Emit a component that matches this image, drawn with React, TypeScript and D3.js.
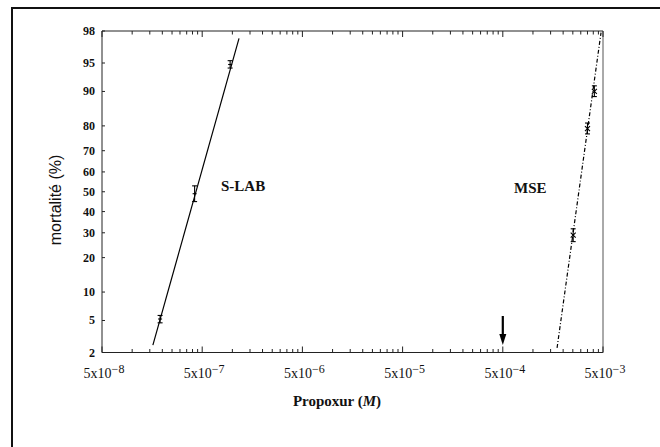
import React from 'react';
import * as d3 from 'd3';

// mortality ticks (%) on the probit axis
const yTicks = [2, 5, 10, 20, 30, 40, 50, 60, 70, 80, 90, 95, 98];
// labelled x ticks: 5 x 10^exp
const xExponents = [-8, -7, -6, -5, -4, -3];
// minor multipliers inside each 5x10^n decade
const minorSteps = [2, 3, 4, 5, 6, 7, 8, 9];

// S-LAB strain: concentration (M), mortality (%), error (%)
const slabConc = [1.9e-7, 4.2e-7, 9.5e-7];
const slabPct = [5.2, 49, 94.8];
const slabErr = [0.5, 4, 0.5];
const slabFit = [
  [1.61e-7, 2.5],
  [1.165e-6, 97.5],
];

// MSE strain
const mseConc = [2.52e-3, 3.5e-3, 4.1e-3];
const msePct = [29, 79, 90];
const mseErr = [2.8, 2, 1.2];
const mseFit = [
  [1.74e-3, 2.3],
  [4.78e-3, 97.9],
];

const arrowAt = 5e-4;

// inverse normal CDF (Acklam)
function probit(p: number): number {
  const a = [-39.69683028665376, 220.9460984245205, -275.9285104469687, 138.357751867269, -30.66479806614716, 2.506628277459239];
  const b = [-54.47609879822406, 161.5858368580409, -155.6989798598866, 66.80131188771972, -13.28068155288572];
  const c = [-0.007784894002430293, -0.3223964580411365, -2.400758277161838, -2.549732539343734, 4.374664141464968, 2.938163982698783];
  const d = [0.007784695709041462, 0.3224671290700398, 2.445134137142996, 3.754408661907416];
  const plow = 0.02425;
  if (p < plow) {
    const q = Math.sqrt(-2 * Math.log(p));
    return (((((c[0] * q + c[1]) * q + c[2]) * q + c[3]) * q + c[4]) * q + c[5]) /
      ((((d[0] * q + d[1]) * q + d[2]) * q + d[3]) * q + 1);
  }
  if (p <= 1 - plow) {
    const q = p - 0.5;
    const r = q * q;
    return ((((((a[0] * r + a[1]) * r + a[2]) * r + a[3]) * r + a[4]) * r + a[5]) * q) /
      (((((b[0] * r + b[1]) * r + b[2]) * r + b[3]) * r + b[4]) * r + 1);
  }
  const q = Math.sqrt(-2 * Math.log(1 - p));
  return -(((((c[0] * q + c[1]) * q + c[2]) * q + c[3]) * q + c[4]) * q + c[5]) /
    ((((d[0] * q + d[1]) * q + d[2]) * q + d[3]) * q + 1);
}

const App = () => {
  const W = 660;
  const H = 447;
  const left = 102;
  const right = 603;
  const top = 31;
  const bottom = 352.5;

  const x = d3.scaleLog().domain([5e-8, 5e-3]).range([left, right]);
  const yz = d3.scaleLinear().domain([probit(0.02), probit(0.98)]).range([bottom, top]);
  const y = (pct: number) => yz(probit(pct / 100));

  const majors = xExponents.map((e) => 5 * Math.pow(10, e));
  const minors: number[] = [];
  xExponents.slice(0, -1).forEach((e) => {
    minorSteps.forEach((k) => minors.push(k * 5 * Math.pow(10, e)));
  });

  const line = d3
    .line<number[]>()
    .x((d) => x(d[0]))
    .y((d) => y(d[1]));

  const serif = '"Liberation Serif", "Times New Roman", serif';
  const sans = '"Liberation Sans", Arial, sans-serif';

  const errBar = (cx: number, pct: number, err: number, key: string, cross: boolean) => {
    const px = x(cx);
    const y1 = y(pct + err);
    const y0 = y(pct - err);
    const py = y(pct);
    return (
      <g key={key} stroke="#000" strokeWidth={1.1}>
        <line x1={px} x2={px} y1={y1} y2={y0} />
        <line x1={px - 2.5} x2={px + 2.5} y1={y1} y2={y1} />
        <line x1={px - 2.5} x2={px + 2.5} y1={y0} y2={y0} />
        {cross ? (
          <g>
            <line x1={px - 2.5} x2={px + 2.5} y1={py - 2.5} y2={py + 2.5} />
            <line x1={px - 2.5} x2={px + 2.5} y1={py + 2.5} y2={py - 2.5} />
          </g>
        ) : (
          <line x1={px - 2} x2={px + 2} y1={py} y2={py} />
        )}
      </g>
    );
  };

  const ax = x(arrowAt);

  return (
    <svg
      width={W}
      height={H}
      style={{ position: 'absolute', left: 0, top: 0, background: '#fff' }}
    >
      {/* outer frame (cut off at right and bottom) */}
      <line x1={12} x2={12} y1={7} y2={H} stroke="#111" strokeWidth={2} />
      <line x1={11} x2={W} y1={8} y2={8} stroke="#111" strokeWidth={2} />

      {/* plot box */}
      <line x1={left} x2={right} y1={top} y2={top} stroke="#222" strokeWidth={1} />
      <line x1={left} x2={right} y1={bottom} y2={bottom} stroke="#222" strokeWidth={1} />
      <line x1={left} x2={left} y1={top} y2={bottom} stroke="#222" strokeWidth={1} />
      <line x1={right} x2={right} y1={top} y2={bottom} stroke="#555" strokeWidth={1} />

      {/* x ticks, top and bottom, pointing inward */}
      {minors.map((v, i) => (
        <g key={'mn' + i} stroke="#222" strokeWidth={1}>
          <line x1={x(v)} x2={x(v)} y1={bottom} y2={bottom - 3.5} />
          <line x1={x(v)} x2={x(v)} y1={top} y2={top + 3.5} />
        </g>
      ))}
      {majors.map((v, i) => (
        <g key={'mj' + i} stroke="#222" strokeWidth={1}>
          <line x1={x(v)} x2={x(v)} y1={bottom} y2={bottom - 6} />
          <line x1={x(v)} x2={x(v)} y1={top} y2={top + 6} />
        </g>
      ))}
      {xExponents.map((e, i) => (
        <text
          key={'xl' + i}
          x={x(5 * Math.pow(10, e)) + 2}
          y={378}
          textAnchor="middle"
          fontFamily={serif}
          fontSize={14}
          fill="#111"
        >
          5x10
          <tspan dy={-5} fontSize={12}>
            {String(e).replace('-', '\u2212')}
          </tspan>
        </text>
      ))}

      {/* y ticks */}
      {yTicks.map((t) => (
        <g key={'yt' + t}>
          <line x1={left} x2={left + 3} y1={y(t)} y2={y(t)} stroke="#222" strokeWidth={1} />
          <text
            x={95}
            y={y(t) + 4}
            textAnchor="end"
            fontFamily={serif}
            fontWeight="bold"
            fontSize={12}
            fill="#111"
          >
            {t}
          </text>
        </g>
      ))}

      {/* axis titles */}
      <text
        transform={`translate(61,200) rotate(-90)`}
        textAnchor="middle"
        fontFamily={sans}
        fontSize={16}
        fill="#111"
      >
        mortalité (%)
      </text>
      <text x={337} y={406} textAnchor="middle" fontFamily={serif} fontWeight="bold" fontSize={15} fill="#111">
        Propoxur (<tspan fontStyle="italic">M</tspan>)
      </text>

      {/* fitted probit lines */}
      <path d={line(slabFit) || ''} fill="none" stroke="#000" strokeWidth={1.2} />
      <path d={line(mseFit) || ''} fill="none" stroke="#000" strokeWidth={1.2} strokeDasharray="4 2 1 2" />

      {/* observed points */}
      {slabConc.map((c, i) => errBar(c, slabPct[i], slabErr[i], 'sl' + i, false))}
      {mseConc.map((c, i) => errBar(c, msePct[i], mseErr[i], 'ms' + i, true))}

      {/* strain labels */}
      <text x={221} y={191} fontFamily={serif} fontWeight="bold" fontSize={15} fill="#111">
        S-LAB
      </text>
      <text x={514} y={193} fontFamily={serif} fontWeight="bold" fontSize={15} fill="#111">
        MSE
      </text>

      {/* arrow marking 5x10^-4 M */}
      <line x1={ax} x2={ax} y1={316} y2={336} stroke="#000" strokeWidth={2.2} />
      <path d={`M${ax - 3.5},334 L${ax + 3.5},334 L${ax},345 Z`} fill="#000" />
    </svg>
  );
};

export default App;
